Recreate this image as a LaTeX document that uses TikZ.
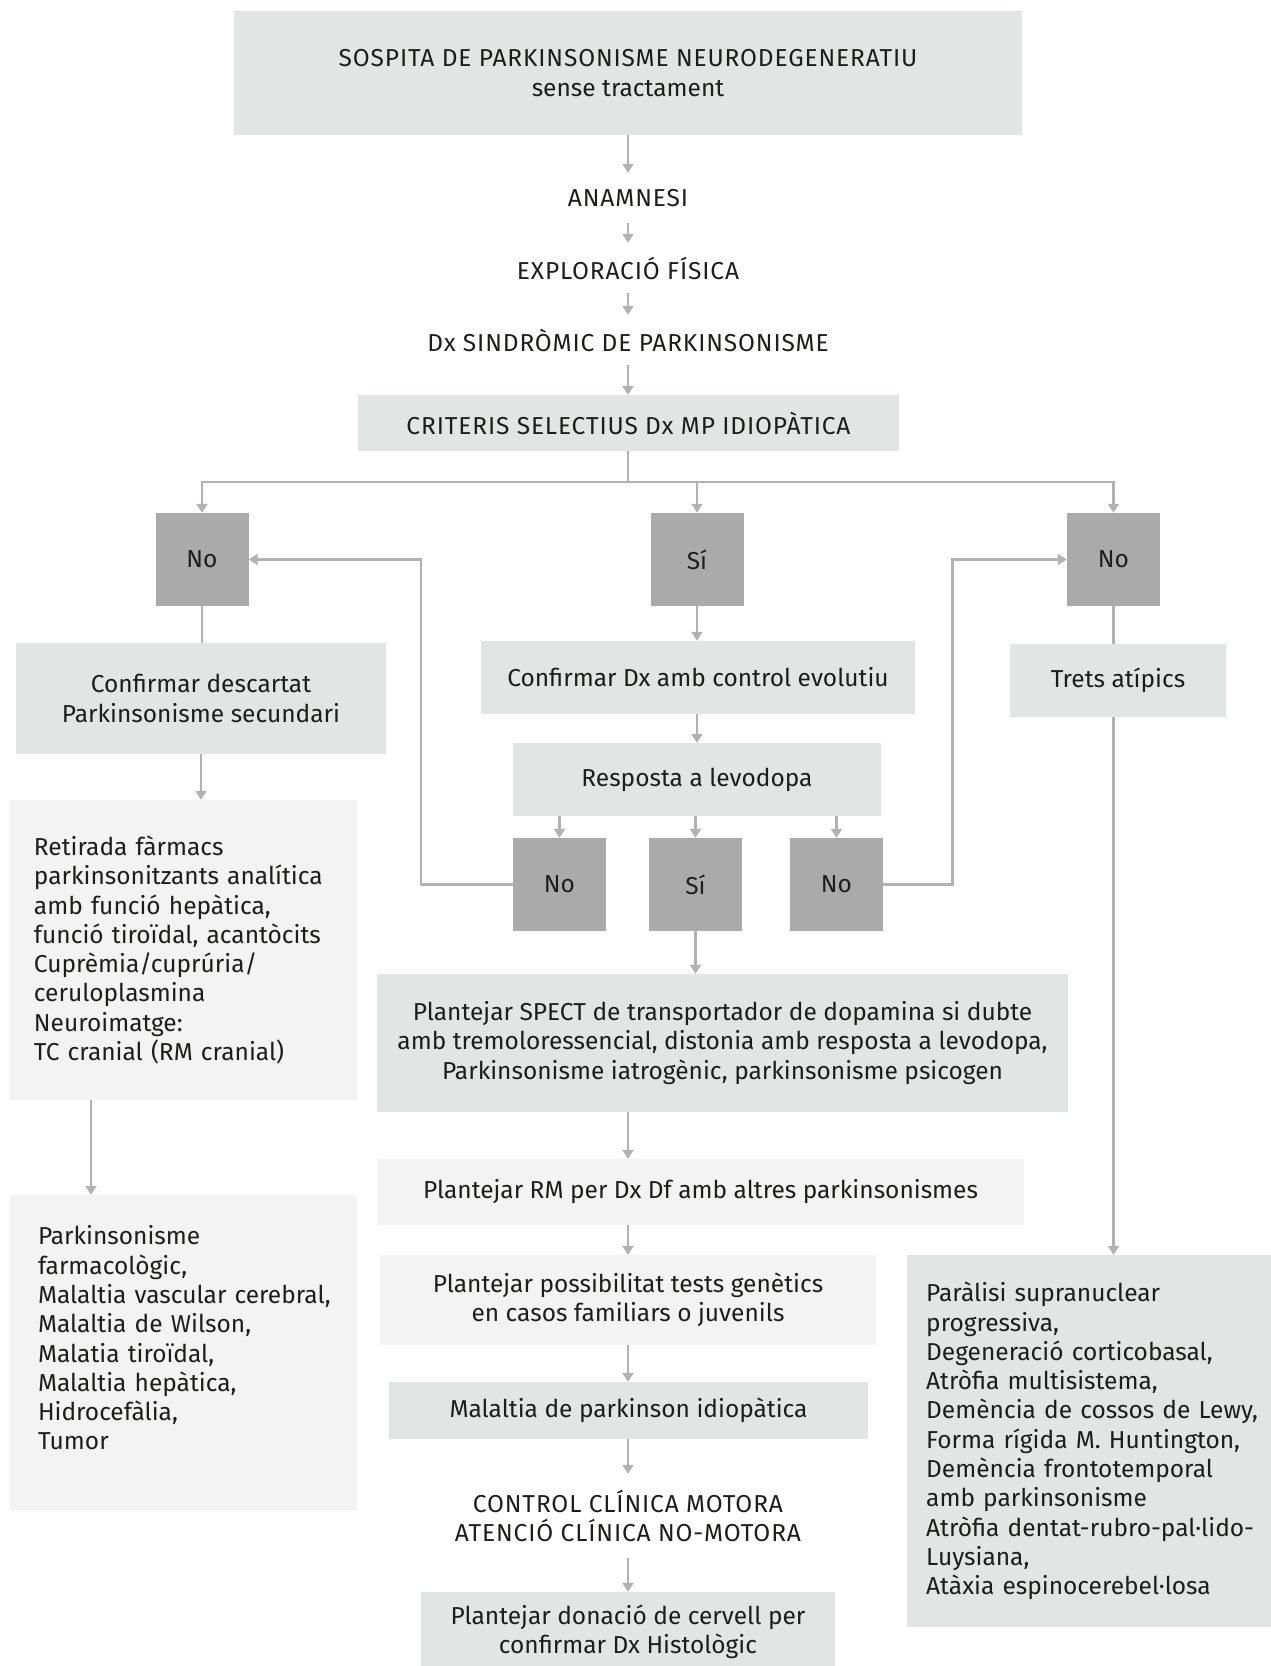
\documentclass[tikz,border=0pt]{standalone}
\usepackage{fontspec}
\setmainfont{Fira Sans}
\newfontfamily\capsfamily{Fira Sans}[LetterSpace=3.5]
\usetikzlibrary{arrows.meta,positioning}

\definecolor{boxgray}{HTML}{E3E4E4}
\definecolor{palegray}{HTML}{F3F3F3}
\definecolor{decgray}{HTML}{AAAAAA}
\definecolor{linegray}{HTML}{B2B2B2}
\definecolor{inkgray}{HTML}{1D1D1B}

\tikzset{
  txt/.style={font=\fontsize{24.5}{29.3}\selectfont, text=inkgray, align=center, inner sep=0pt},
  caps/.style={txt, font=\capsfamily\fontsize{24.5}{29.3}\selectfont},
  box/.style={txt, fill=boxgray},
  palebox/.style={txt, fill=palegray},
  decbox/.style={txt, fill=decgray, minimum width=93, minimum height=93},
  flow/.style={draw=linegray, line width=2.6pt, -{Triangle[length=9pt,width=11pt]}},
  link/.style={draw=linegray, line width=2.6pt},
}

\begin{document}
\begin{tikzpicture}[x=1pt, y=-1pt]
    \useasboundingbox (0,0) rectangle (1271,1666);

    % Main column
    \node[box, minimum width=788, minimum height=124] (suspicion) at (628,73)
        {{\capsfamily SOSPITA DE PARKINSONISME NEURODEGENERATIU}\\sense tractament};
    \node[caps, minimum height=50] (anamnesi) at (628,198) {ANAMNESI};
    \node[caps, minimum height=50] (exploracio) at (628,268) {EXPLORACIÓ FÍSICA};
    \node[caps, minimum height=50] (syndrome) at (628,340) {Dx SINDRÒMIC DE PARKINSONISME};
    \node[box, caps, minimum width=541, minimum height=56] (criteris) at (628.5,423)
        {CRITERIS SELECTIUS Dx MP IDIOPÀTICA};

    \draw[flow] (suspicion) -- (anamnesi);
    \draw[flow] (anamnesi) -- (exploracio);
    \draw[flow] (exploracio) -- (syndrome);
    \draw[flow] (syndrome.south) -- (syndrome.south |- criteris.north);

    % First decision
    \node[decbox] (noA) at (202,559.5) {No};
    \node[decbox] (si) at (697,559.5) {Sí};
    \node[decbox] (noB) at (1113.5,559.5) {No};

    \coordinate (split) at (628,482);
    \draw[link] (criteris.south -| split) -- (split);
    \draw[flow] (split) -| (noA.north);
    \draw[flow] (split) -| (noB.north);
    \draw[flow] (split -| si.north) -- (si.north);

    % Left branch
    \node[box, minimum width=370, minimum height=111] (descartat) at (201,698.5)
        {Confirmar descartat\\Parkinsonisme secundari};
    \node[palebox, minimum width=347, minimum height=300, text width=299,
          inner xsep=24, align=left] (retirada) at (183.5,950)
        {Retirada fàrmacs\\\mbox{parkinsonitzants analítica}\\amb funció hepàtica,\\
         \mbox{funció tiroïdal, acantòcits}\\Cuprèmia/cuprúria/\\ceruloplasmina\\
         Neuroimatge:\\TC cranial (RM cranial)};
    \node[palebox, minimum width=347, minimum height=315, text width=291,
          inner xsep=28, align=left] (causes) at (183.5,1352.5)
        {Parkinsonisme\\farmacològic,\\\mbox{Malaltia vascular cerebral,}\\
         Malaltia de Wilson,\\Malatia tiroïdal,\\Malaltia hepàtica,\\
         Hidrocefàlia,\\Tumor\\\mbox{}};

    \draw[link] (noA.south) -- (noA.south |- descartat.north);
    \draw[flow] (descartat.south) -- (descartat.south |- retirada.north);
    \draw[flow] ([xshift=-92.5pt]retirada.south) -- ([xshift=-92.5pt]retirada.south |- causes.north);

    % Middle branch
    \node[box, minimum width=434, minimum height=73] (confdx) at (698,677.5)
        {Confirmar Dx amb control evolutiu};
    \node[box, minimum width=368, minimum height=73] (resposta) at (697,779.5)
        {Resposta a levodopa};
    \node[decbox] (noL) at (559.5,884.5) {No};
    \node[decbox] (siM) at (695.5,884.5) {Sí};
    \node[decbox] (noR) at (836.5,884.5) {No};

    \draw[flow] (si.south) -- (si.south |- confdx.north);
    \draw[flow] (confdx.south -| resposta.north) -- (resposta.north);
    \foreach \n in {noL,siM,noR}
        \draw[flow] (resposta.south -| \n.north) -- (\n.north);

    % Loops back to the first decision
    \draw[flow] (noL.west) -- ++(-92,0) |- (noA.east);
    \draw[flow] (noR.east) -- ++(69,0) |- (noB.west);

    \node[box, minimum width=691, minimum height=138] (spect) at (722.5,1043)
        {Plantejar SPECT de transportador de dopamina si dubte\\
         amb tremoloressencial, distonia amb resposta a levodopa,\\
         Parkinsonisme iatrogènic, parkinsonisme psicogen};
    \node[palebox, minimum width=647, minimum height=66] (rm) at (700.5,1192)
        {Plantejar RM per Dx Df amb altres parkinsonismes};
    \node[palebox, minimum width=496, minimum height=90] (tests) at (628,1300)
        {Plantejar possibilitat tests genètics\\en casos familiars o juvenils};
    \node[box, minimum width=479, minimum height=57] (idiopatica) at (628.5,1410.5)
        {Malaltia de parkinson idiopàtica};
    \node[caps, minimum height=84] (control) at (628,1516)
        {CONTROL CLÍNICA MOTORA\\ATENCIÓ CLÍNICA NO-MOTORA};
    \node[box, minimum width=414, minimum height=80] (donacio) at (628,1632)
        {Plantejar donació de cervell per\\confirmar Dx Histològic};

    \draw[flow] (siM.south) -- (siM.south |- spect.north);
    \draw[flow] (spect.south -| tests.north) -- (rm.north -| tests.north);
    \draw[flow] (rm.south -| tests.north) -- (tests.north);
    \draw[flow] (tests.south) -- (tests.south |- idiopatica.north);
    \draw[flow] (idiopatica.south -| control.north) -- (control.north);
    \draw[flow] (control.south) -- (control.south |- donacio.north);

    % Right branch
    \node[box, minimum width=216, minimum height=73] (trets) at (1118,680.5)
        {Trets atípics};
    \node[box, minimum width=368, minimum height=372, text width=340,
          inner xsep=19, align=left, anchor=west] (atypical) at (907,1441)
        {Paràlisi supranuclear\\progressiva,\\Degeneració corticobasal,\\
         Atròfia multisistema,\\\mbox{Demència de cossos de Lewy,}\\
         \mbox{Forma rígida M. Huntington,}\\Demència frontotemporal\\
         amb parkinsonisme\\\mbox{Atròfia dentat-rubro-pal·lido-}\\Luysiana,\\
         Atàxia espinocerebel·losa};

    \draw[link] (noB.south) -- (noB.south |- trets.north);
    \draw[flow] (trets.south -| noB.south) -- (noB.south |- atypical.north);
\end{tikzpicture}
\end{document}
